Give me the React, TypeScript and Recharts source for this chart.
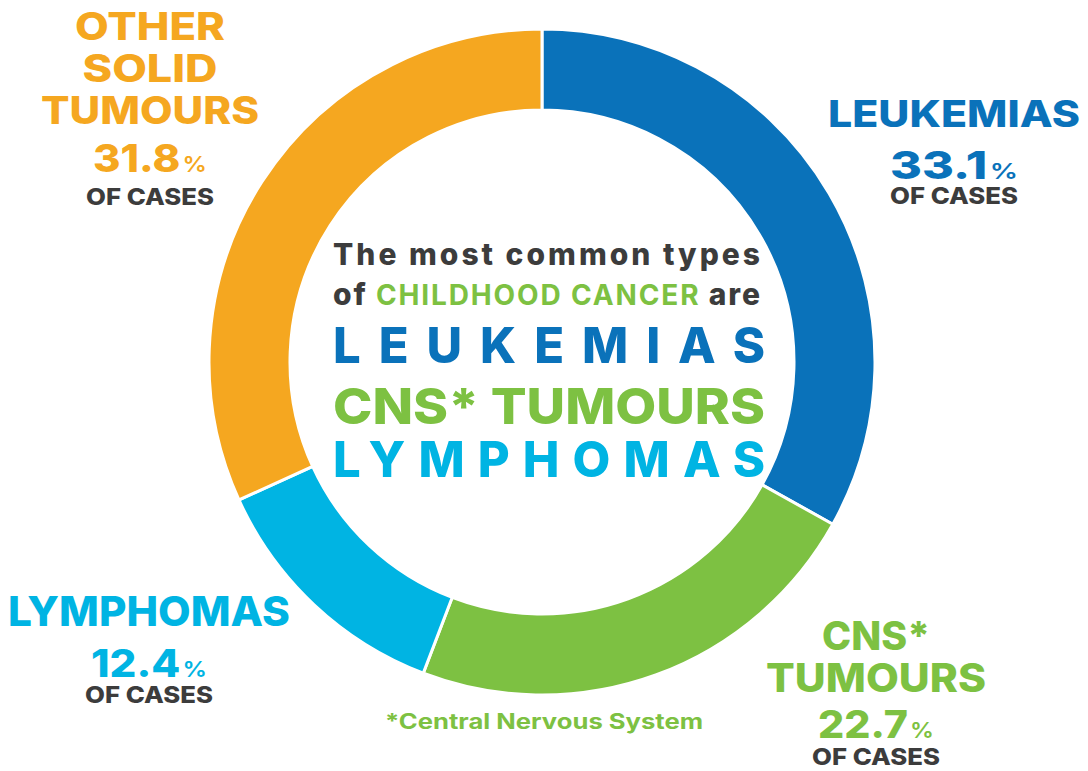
import React from 'react';
import { PieChart, Pie, Cell } from 'recharts';

// chart data
const categories = ['LEUKEMIAS', 'CNS* TUMOURS', 'LYMPHOMAS', 'OTHER SOLID TUMOURS'];
const shares = [33.1, 22.7, 12.4, 31.8];
const colors = ['#0A72BA', '#7DC142', '#00B4E3', '#F5A720'];

const DARK = '#3C3C3C';
const FONT = 'Inter, "Open Sans", sans-serif';

const data = categories.map((name, i) => ({ name, value: shares[i] }));

// label blocks around the ring (name lines with their widths, then the percentage)
const labelBlocks = [
  { idx: 0, x: 954, lines: ['LEUKEMIAS'], widths: [252], top: 127, size: 37, pctY: 179, ofY: 204, pctW: 128 },
  { idx: 1, x: 876, lines: ['CNS*', 'TUMOURS'], widths: [108, 220], top: 650, size: 39, pctY: 738, ofY: 765, pctW: 116 },
  { idx: 2, x: 149, lines: ['LYMPHOMAS'], widths: [282], top: 626, size: 41, pctY: 677, ofY: 703, pctW: 116 },
  { idx: 3, x: 150, lines: ['OTHER', 'SOLID', 'TUMOURS'], widths: [150, 135, 218], top: 40, size: 38, pctY: 172, ofY: 205, pctW: 114 },
];

const Labels: React.FC = () => (
  <svg width={1088} height={771} style={{ position: 'absolute', left: 0, top: 0 }} fontFamily={FONT}>
    {labelBlocks.map((b) => {
      const color = colors[b.idx];
      return (
        <g key={b.idx}>
          {b.lines.map((ln, j) => (
            <text
              key={j}
              x={b.x - b.widths[j] / 2}
              y={b.top + j * 42}
              fill={color}
              fontSize={b.size}
              fontWeight={800}
              textLength={b.widths[j]}
              lengthAdjust="spacingAndGlyphs"
            >
              {ln}
            </text>
          ))}
          <text
            x={b.x - b.pctW / 2}
            y={b.pctY}
            fill={color}
            fontWeight={800}
            textLength={b.pctW}
            lengthAdjust="spacingAndGlyphs"
          >
            <tspan fontSize={38}>{shares[b.idx].toFixed(1)}</tspan>
            <tspan fontSize={22} fontWeight={600} dx={2}>%</tspan>
          </text>
          <text
            x={b.x - 64}
            y={b.ofY}
            fill={DARK}
            fontSize={23}
            fontWeight={800}
            textLength={128}
            lengthAdjust="spacingAndGlyphs"
          >
            OF CASES
          </text>
        </g>
      );
    })}

    <text x={385} y={729} fill={colors[1]} fontSize={21} fontWeight={700} textLength={318} lengthAdjust="spacingAndGlyphs">
      *Central Nervous System
    </text>

    {/* centre text */}
    <text x={333} y={265} fill={DARK} fontSize={30} fontWeight={800} textLength={427} lengthAdjust="spacing">
      The most common types
    </text>
    <text x={333} y={305} fill={DARK} fontSize={30} fontWeight={800} textLength={427} lengthAdjust="spacing">
      of <tspan fill={colors[1]} fontWeight={700} fontSize={28}>CHILDHOOD CANCER</tspan> are
    </text>
    <text x={333} y={363} fill={colors[0]} fontSize={49} fontWeight={800} textLength={432} lengthAdjust="spacing">
      {categories[0]}
    </text>
    <text x={333} y={424} fill={colors[1]} fontSize={50} fontWeight={800} textLength={432} lengthAdjust="spacingAndGlyphs">
      {categories[1]}
    </text>
    <text x={333} y={477} fill={colors[2]} fontSize={49} fontWeight={800} textLength={432} lengthAdjust="spacing">
      {categories[2]}
    </text>
  </svg>
);

export default function App() {
  return (
    <div style={{ position: 'absolute', left: 0, top: 0, width: 1088, height: 771, background: '#fff' }}>
      <PieChart width={1088} height={771} margin={{ top: 0, right: 0, bottom: 0, left: 0 }}>
        <Pie
          data={data}
          dataKey="value"
          nameKey="name"
          cx={542}
          cy={362}
          innerRadius={252}
          outerRadius={333}
          startAngle={90}
          endAngle={-270}
          stroke="#ffffff"
          strokeWidth={3}
          isAnimationActive={false}
        >
          {data.map((d, i) => (
            <Cell key={d.name} fill={colors[i]} />
          ))}
        </Pie>
      </PieChart>
      <Labels />
    </div>
  );
}
